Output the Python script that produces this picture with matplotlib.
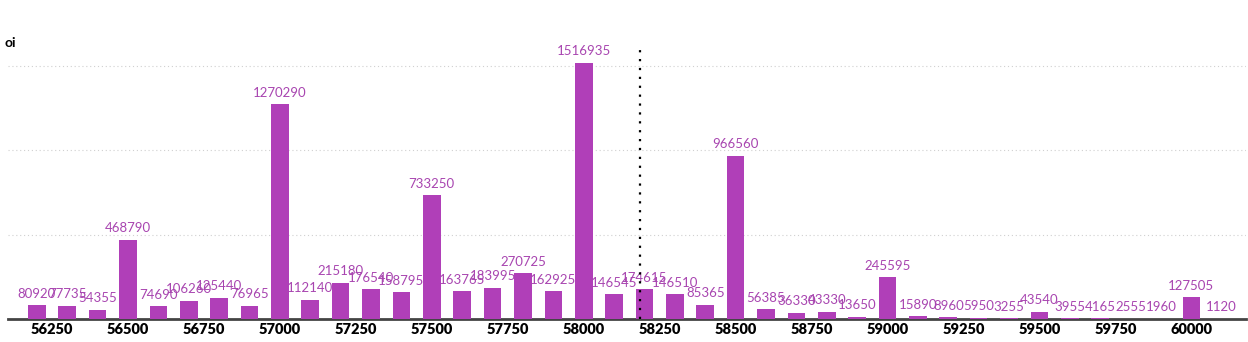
import matplotlib
matplotlib.use("Agg")
import matplotlib.pyplot as plt

strikes = [56200, 56300, 56400, 56500, 56600, 56700, 56800, 56900, 57000, 57100,
           57200, 57300, 57400, 57500, 57600, 57700, 57800, 57900, 58000, 58100,
           58200, 58300, 58400, 58500, 58600, 58700, 58800, 58900, 59000, 59100,
           59200, 59300, 59400, 59500, 59600, 59700, 59800, 59900, 60000, 60100]
oi = [80920, 77735, 54355, 468790, 74690, 106260, 125440, 76965, 1270290, 112140,
      215180, 176540, 158795, 733250, 163765, 183995, 270725, 162925, 1516935, 146545,
      174615, 146510, 85365, 966560, 56385, 36330, 43330, 13650, 245595, 15890,
      8960, 5950, 3255, 43540, 3955, 4165, 2555, 1960, 127505, 1120]
tick_strikes = [56250, 56500, 56750, 57000, 57250, 57500, 57750, 58000, 58250,
                58500, 58750, 59000, 59250, 59500, 59750, 60000]
spot = 58185

bar_color = "#b03fb8"
plt.rcParams["font.family"] = ["Lato", "DejaVu Sans"]

fig = plt.figure(figsize=(12.48, 3.42), dpi=100)
ax = fig.add_axes([0.0064, 0.0673, 0.992, 0.7953])

ax.bar(strikes, oi, width=58, color=bar_color, zorder=3)
for s, v in zip(strikes, oi):
    ax.annotate(str(v), (s, v), xytext=(0, 4), textcoords="offset points",
                ha="center", va="bottom", fontsize=9.5, color="#a845b0")

# spot marker
ax.axvline(spot, color="black", linestyle=(0, (1, 3)), linewidth=1.6, zorder=4)

ax.set_xlim(56105, 60180)
ax.set_ylim(0, 1610000)
ax.set_xticks(tick_strikes)
ax.set_xticklabels([str(t) for t in tick_strikes], fontweight="heavy", fontsize=10.5)
ax.tick_params(axis="x", length=0, pad=3)
ax.set_yticks([500000, 1000000, 1500000])
ax.set_yticklabels([])
ax.tick_params(axis="y", length=0)
ax.grid(axis="y", color="#d0d0d0", linestyle=(0, (1, 2.5)), linewidth=0.8, zorder=0)

for side in ["top", "right", "left"]:
    ax.spines[side].set_visible(False)
ax.spines["bottom"].set_color("#444444")
ax.spines["bottom"].set_linewidth(2)

fig.text(0.004, 0.875, "oi", fontweight="bold", fontsize=10, ha="left", va="center")

fig.savefig("out.png", dpi=100)
